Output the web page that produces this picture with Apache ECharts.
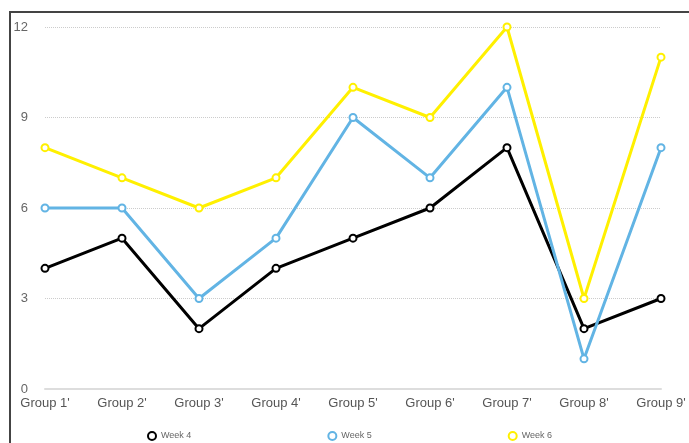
<!DOCTYPE html>
<html>
<head>
<meta charset="utf-8">
<script src="https://cdn.jsdelivr.net/npm/echarts@6/dist/echarts.min.js"></script>
<style>html,body{margin:0;padding:0;background:#fff;}#c{width:689px;height:443px;}</style>
</head>
<body>
<div id="c"></div>
<script>
const categories = ["Group 1'", "Group 2'", "Group 3'", "Group 4'", "Group 5'", "Group 6'", "Group 7'", "Group 8'", "Group 9'"];
const week4 = [4, 5, 2, 4, 5, 6, 8, 2, 3];
const week5 = [6, 6, 3, 5, 9, 7, 10, 1, 8];
const week6 = [8, 7, 6, 7, 10, 9, 12, 3, 11];
const seriesNames = ['Week 4', 'Week 5', 'Week 6'];
const colors = ['#000000', '#62b4e4', '#fff000'];

const chart = echarts.init(document.getElementById('c'));
function mk(name, data, color) {
  return {
    name: name, type: 'line', data: data,
    symbol: 'emptyCircle', symbolSize: 7,
    lineStyle: { color: color, width: 3 },
    itemStyle: { color: color, borderWidth: 2 },
    animation: false
  };
}
chart.setOption({
  animation: false,
  grid: { left: 45, right: 28, top: 27, bottom: 54 },
  graphic: [
    { type: 'line', shape: { x1: 10, y1: 12, x2: 10, y2: 443 }, style: { stroke: '#444', lineWidth: 2 } },
    { type: 'line', shape: { x1: 9, y1: 12, x2: 689, y2: 12 }, style: { stroke: '#444', lineWidth: 2 } }
  ],
  legend: {
    left: 142, bottom: -3,
    itemGap: 136, itemWidth: 8, itemHeight: 8,
    icon: 'emptyCircle',
    itemStyle: { borderWidth: 2.5 },
    textStyle: { fontSize: 9, color: '#666', fontFamily: 'Liberation Sans' },
    data: seriesNames
  },
  xAxis: {
    type: 'category', data: categories, boundaryGap: false,
    axisLine: { show: true, lineStyle: { color: '#ddd', width: 2 } },
    axisTick: { show: false },
    axisLabel: { fontSize: 13, color: '#555', margin: 8, fontFamily: 'Liberation Sans' },
    splitLine: { show: false }
  },
  yAxis: {
    type: 'value', min: 0, max: 12, interval: 3,
    axisLine: { show: false }, axisTick: { show: false },
    axisLabel: { fontSize: 13, color: '#666', margin: 17, fontFamily: 'Liberation Sans' },
    splitLine: { show: true, lineStyle: { color: '#ccc', type: 'dotted', width: 1 } }
  },
  series: [
    mk(seriesNames[0], week4, colors[0]),
    mk(seriesNames[1], week5, colors[1]),
    mk(seriesNames[2], week6, colors[2])
  ]
});
</script>
</body>
</html>
